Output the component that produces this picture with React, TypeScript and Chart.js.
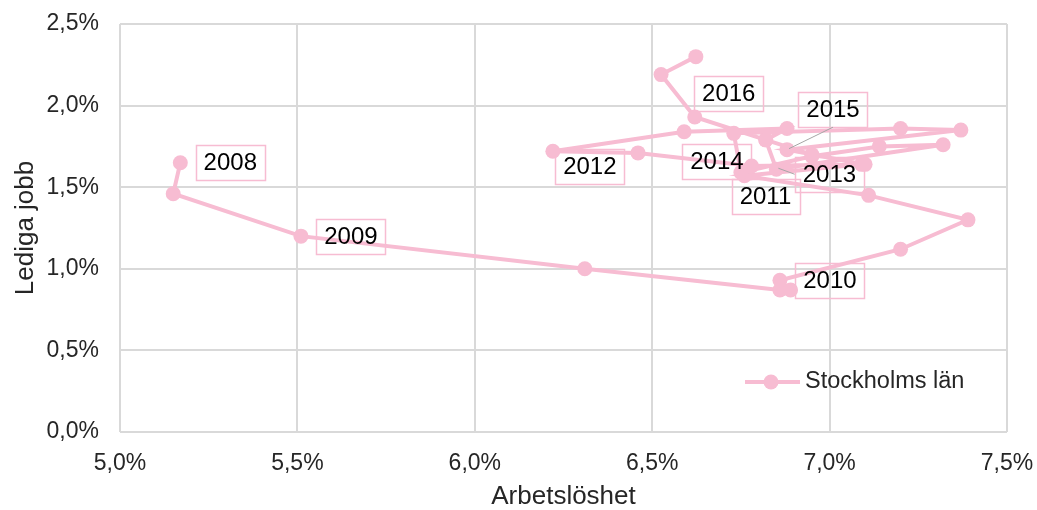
import React, { useEffect, useRef } from "react";
import { Chart, registerables } from "chart.js";

Chart.register(...registerables);

// Quarterly observations, Stockholms län (2008 K3 – 2016 K3)
const quarters = [
  "2008K3", "2008K4",
  "2009K1", "2009K2", "2009K3", "2009K4",
  "2010K1", "2010K2", "2010K3", "2010K4",
  "2011K1", "2011K2", "2011K3", "2011K4",
  "2012K1", "2012K2", "2012K3", "2012K4",
  "2013K1", "2013K2", "2013K3", "2013K4",
  "2014K1", "2014K2", "2014K3", "2014K4",
  "2015K1", "2015K2", "2015K3", "2015K4",
  "2016K1", "2016K2", "2016K3",
];
// Arbetslöshet (%)
const unemployment = [
  5.17, 5.15,
  5.51, 6.31, 6.86, 6.89,
  6.86, 7.2, 7.39, 7.11,
  6.76, 7.09, 6.78, 6.46,
  6.22, 6.59, 6.88, 6.82,
  6.85, 7.32, 7.14, 6.95,
  6.75, 6.73, 7.2, 7.37,
  6.88, 7.1, 6.95, 6.82,
  6.62, 6.525, 6.623,
];
// Lediga jobb (%)
const vacancies = [
  1.65, 1.46,
  1.2, 1.0, 0.87, 0.87,
  0.93, 1.12, 1.3, 1.45,
  1.57, 1.64, 1.63, 1.71,
  1.72, 1.84, 1.86, 1.79,
  1.61, 1.76, 1.75, 1.69,
  1.59, 1.83, 1.86, 1.85,
  1.73, 1.64, 1.7, 1.79,
  1.93, 2.19, 2.3,
];
// Year labels and the point index each one is attached to
const yearLabels = ["2008", "2009", "2010", "2011", "2012", "2013", "2014", "2015", "2016"];
const yearIndex = [0, 2, 6, 10, 14, 18, 22, 26, 30];
// Label box offsets (px) from the point, and whether a leader line is drawn
const labelOffsets: [number, number][] = [
  [50, 0], [50, 0], [50, 0], [21, 21], [37, 15], [53, 5], [-24, -11], [46, -40], [34, -24],
];
const labelLeaders = [false, false, false, false, false, true, false, true, false];

const xTicks = { min: 5.0, max: 7.5, step: 0.5 };
const yTicks = { min: 0.0, max: 2.5, step: 0.5 };

const seriesName = "Stockholms län";
const xTitle = "Arbetslöshet";
const yTitle = "Lediga jobb";

const PINK = "#F7BCD2";
const FONT = "'Liberation Sans', Arial, sans-serif";
const TEXT = "#262626";

const fmt = (v: number) => v.toFixed(1).replace(".", ",") + "%";

function labelBoxes(chart: any) {
  const meta = chart.getDatasetMeta(0);
  const ctx = chart.ctx;
  ctx.font = `24px ${FONT}`;
  return yearLabels.map((t, i) => {
    const el = meta.data[yearIndex[i]];
    const px = el.x;
    const py = el.y;
    const cx = px + labelOffsets[i][0];
    const cy = py + labelOffsets[i][1];
    const w = ctx.measureText(t).width + 16;
    const h = 35;
    return { t, px, py, cx, cy, w, h, leader: labelLeaders[i] };
  });
}

const labelPlugin = {
  id: "yearLabels",
  beforeDatasetsDraw(chart: any) {
    const ctx = chart.ctx;
    const boxes = labelBoxes(chart);
    ctx.save();
    ctx.strokeStyle = PINK;
    ctx.lineWidth = 1.5;
    boxes.forEach((b) => {
      ctx.strokeRect(Math.round(b.cx - b.w / 2) + 0.5, Math.round(b.cy - b.h / 2) + 0.5, Math.round(b.w), b.h);
    });
    ctx.restore();
  },
  afterDatasetsDraw(chart: any) {
    const ctx = chart.ctx;
    const boxes = labelBoxes(chart);
    ctx.save();
    ctx.strokeStyle = "#A6A6A6";
    ctx.lineWidth = 1;
    boxes.forEach((b) => {
      if (!b.leader) return;
      const left = b.cx - b.w / 2, right = b.cx + b.w / 2, top = b.cy - b.h / 2, bottom = b.cy + b.h / 2;
      let ex = Math.max(left, Math.min(right, b.px));
      let ey = Math.max(top, Math.min(bottom, b.py));
      if (b.py > bottom) { ex = b.cx; ey = bottom; }
      else if (b.px < left) { ex = left; ey = b.cy; }
      ctx.beginPath();
      ctx.moveTo(ex, ey);
      ctx.lineTo(b.px + 2, b.py - 1);
      ctx.stroke();
    });
    ctx.fillStyle = "#000";
    ctx.font = `24px ${FONT}`;
    ctx.textAlign = "center";
    ctx.textBaseline = "middle";
    boxes.forEach((b) => ctx.fillText(b.t, b.cx, b.cy + 1));
    ctx.restore();
  },
};

const legendPlugin = {
  id: "innerLegend",
  afterDraw(chart: any) {
    const ctx = chart.ctx;
    const area = chart.chartArea;
    const y = area.bottom - 50;
    const x0 = area.right - 262;
    ctx.save();
    ctx.strokeStyle = PINK;
    ctx.lineWidth = 4;
    ctx.beginPath();
    ctx.moveTo(x0, y);
    ctx.lineTo(x0 + 55, y);
    ctx.stroke();
    ctx.fillStyle = PINK;
    ctx.beginPath();
    ctx.arc(x0 + 26, y, 7.5, 0, Math.PI * 2);
    ctx.fill();
    ctx.fillStyle = TEXT;
    ctx.font = `23.5px ${FONT}`;
    ctx.textAlign = "left";
    ctx.textBaseline = "middle";
    ctx.fillText(seriesName, x0 + 60, y);
    ctx.restore();
  },
};

export default function App() {
  const ref = useRef<HTMLCanvasElement | null>(null);
  useEffect(() => {
    document.body.style.margin = "0";
    const canvas = ref.current!;
    const points = unemployment.map((u, i) => ({ x: u, y: vacancies[i] }));
    const chart = new Chart(canvas, {
      type: "scatter",
      data: {
        labels: quarters,
        datasets: [
          {
            label: seriesName,
            data: points,
            showLine: true,
            borderColor: PINK,
            backgroundColor: PINK,
            borderWidth: 4,
            pointRadius: 7.5,
            pointBorderWidth: 0,
            pointBackgroundColor: PINK,
            tension: 0,
          },
        ],
      },
      options: {
        responsive: false,
        animation: false,
        devicePixelRatio: 1,
        layout: { padding: { top: 24, right: 30, left: 0, bottom: 0 } },
        plugins: { legend: { display: false }, tooltip: { enabled: false } },
        scales: {
          x: {
            type: "linear",
            min: xTicks.min,
            max: xTicks.max,
            afterFit: (s: any) => {
              s.height = 78;
              s.paddingLeft = 0;
              s.paddingRight = 0;
            },
            ticks: {
              stepSize: xTicks.step,
              padding: 18,
              color: TEXT,
              font: { family: FONT, size: 23 },
              callback: (v: any) => fmt(Number(v)),
              maxRotation: 0,
            },
            grid: { color: "#D9D9D9", lineWidth: 2, drawTicks: false },
            border: { display: false },
            title: {
              display: true,
              text: xTitle,
              color: TEXT,
              font: { family: FONT, size: 26, lineHeight: 1 },
              padding: { top: 0, bottom: 0 },
            },
          },
          y: {
            type: "linear",
            min: yTicks.min,
            max: yTicks.max,
            afterFit: (s: any) => {
              s.width = 120;
              s.paddingTop = 0;
              s.paddingBottom = 0;
            },
            ticks: {
              stepSize: yTicks.step,
              padding: 21,
              color: TEXT,
              font: { family: FONT, size: 23 },
              callback: (v: any) => fmt(Number(v)),
            },
            grid: { color: "#D9D9D9", lineWidth: 2, drawTicks: false },
            border: { display: false },
            title: {
              display: true,
              text: yTitle,
              color: TEXT,
              font: { family: FONT, size: 26, lineHeight: 1 },
              padding: { top: 13, bottom: 0 },
            },
          },
        },
      },
      plugins: [labelPlugin, legendPlugin],
    } as any);
    return () => chart.destroy();
  }, []);
  return <canvas ref={ref} width={1037} height={510} style={{ display: "block" }} />;
}
